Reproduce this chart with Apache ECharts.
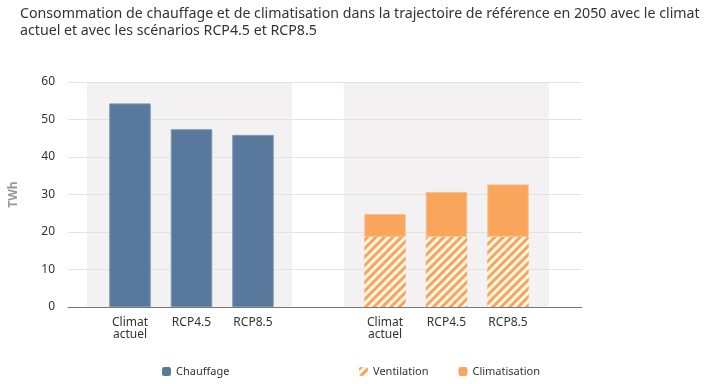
<!DOCTYPE html>
<html><head><meta charset="utf-8">
<script src="https://cdn.jsdelivr.net/npm/echarts@6/dist/echarts.min.js"></script>
<style>html,body{margin:0;padding:0;background:#fff}#c{width:715px;height:384px}</style>
</head><body><div id="c"></div>
<script>
const titleText = 'Consommation de chauffage et de climatisation dans la trajectoire de référence en 2050 avec le climat\nactuel et avec les scénarios RCP4.5 et RCP8.5';
const categories = ['Climat\nactuel', 'RCP4.5', 'RCP8.5'];
const chauffage = [54.3, 47.4, 45.9];
const ventilation = [18.7, 18.7, 18.7];
const climatisation = [6.1, 12.0, 14.0];
const yMin = 0, yMax = 60, yStep = 10;

const FONT = 'Noto Sans';
const chart = echarts.init(document.getElementById('c'), null, {renderer: 'canvas'});
const hiddenCat = (gi) => ({gridIndex: gi, type: 'category', data: categories, show: false});
const hiddenVal = (gi) => ({gridIndex: gi, type: 'value', min: yMin, max: yMax, show: false});
const labelCat = (gi) => ({
  gridIndex: gi, type: 'category', data: categories,
  axisLine: {show: false}, axisTick: {show: false},
  axisLabel: {color: '#333', fontSize: 12, fontFamily: FONT, lineHeight: 12, margin: 10, interval: 0}
});
const legendCommon = {top: 366, padding: 0, itemWidth: 9, itemHeight: 9, itemGap: 30,
  itemStyle: {borderWidth: 0},
  textStyle: {fontFamily: FONT, fontSize: 11, color: '#333'}};
chart.setOption({
  animation: false,
  backgroundColor: '#fff',
  title: {
    text: titleText, left: 20, top: 5, padding: 0,
    textStyle: {fontFamily: FONT, fontSize: 14.2, fontWeight: 'normal', color: '#333', lineHeight: 17}
  },
  legend: [
    Object.assign({data: ['Chauffage'], left: 162}, legendCommon),
    Object.assign({data: ['Ventilation', 'Climatisation'], left: 359}, legendCommon)
  ],
  grid: [
    {left: 66, right: 133, top: 82, bottom: 77, z: 1},
    {left: 87, width: 205, top: 82, bottom: 77, show: true, backgroundColor: '#f3f1f2', borderWidth: 0, z: -1},
    {left: 344, width: 205, top: 82, bottom: 77, show: true, backgroundColor: '#f3f1f2', borderWidth: 0, z: -1},
    {left: 99.25, width: 184.5, top: 82, bottom: 77},
    {left: 354.25, width: 184.5, top: 82, bottom: 77}
  ],
  xAxis: [
    {gridIndex: 0, type: 'value', min: 0, max: 1, axisLine: {show: true, lineStyle: {color: '#777', width: 1}},
     axisTick: {show: false}, axisLabel: {show: false}, splitLine: {show: false}},
    hiddenCat(1), hiddenCat(2), labelCat(3), labelCat(4)
  ],
  yAxis: [
    {gridIndex: 0, type: 'value', min: yMin, max: yMax, interval: yStep,
     name: 'TWh', nameLocation: 'middle', nameGap: 48,
     nameTextStyle: {fontFamily: FONT, fontSize: 12, fontWeight: 'bold', color: '#999'},
     axisLine: {show: false}, axisTick: {show: false},
     axisLabel: {color: '#333', fontSize: 12, fontFamily: FONT, margin: 13},
     splitLine: {lineStyle: {color: '#e3e3e3', width: 1}}},
    hiddenVal(1), hiddenVal(2), hiddenVal(3), hiddenVal(4)
  ],
  series: [
    {name: 'Chauffage', type: 'bar', xAxisIndex: 3, yAxisIndex: 3, data: chauffage, barWidth: 41.5,
     itemStyle: {color: '#58799b', borderColor: '#7b96b2', borderWidth: 1}},
    {name: 'Ventilation', type: 'bar', xAxisIndex: 4, yAxisIndex: 4, stack: 'c', data: ventilation, barWidth: 41.5,
     itemStyle: {color: '#fff6ea',
       decal: {symbol: 'rect', symbolSize: 1, color: '#f5a65c', dashArrayX: [1, 0], dashArrayY: [3, 3], rotation: -Math.PI / 4}}},
    {name: 'Climatisation', type: 'bar', xAxisIndex: 4, yAxisIndex: 4, stack: 'c', data: climatisation, barWidth: 41.5,
     itemStyle: {color: '#f9a55b', borderColor: '#fbc08a', borderWidth: 1}}
  ]
});
</script></body></html>
